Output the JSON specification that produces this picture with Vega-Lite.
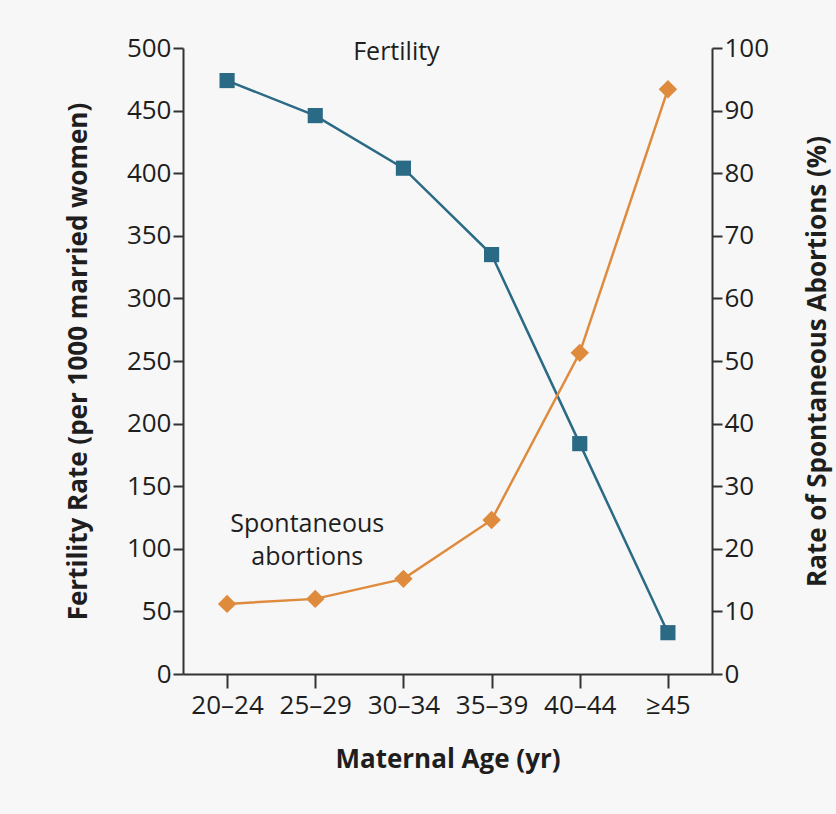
{
  "$schema": "https://vega.github.io/schema/vega-lite/v6.json",
  "width": 529,
  "height": 626,
  "autosize": {"type": "none"},
  "padding": {"left": 183, "top": 48, "right": 124, "bottom": 140},
  "background": "#f7f7f7",
  "config": {
    "view": {"stroke": null},
    "font": "Open Sans",
    "axis": {
      "grid": false,
      "domainColor": "#333333",
      "domainWidth": 2,
      "tickColor": "#333333",
      "tickWidth": 2,
      "tickSize": 10,
      "labelFont": "Open Sans",
      "labelFontSize": 26,
      "labelColor": "#1e1e1e",
      "labelPadding": 2,
      "titleFont": "Open Sans",
      "titleFontSize": 26,
      "titleFontWeight": "bold",
      "titleColor": "#1e1e1e"
    }
  },
  "data": {
    "values": [
      {"age": "20–24", "fertility": 474, "abortion": 11.2},
      {"age": "25–29", "fertility": 446, "abortion": 12.0},
      {"age": "30–34", "fertility": 404, "abortion": 15.2},
      {"age": "35–39", "fertility": 335, "abortion": 24.6},
      {"age": "40–44", "fertility": 184, "abortion": 51.3},
      {"age": "≥45", "fertility": 33, "abortion": 93.4}
    ]
  },
  "encoding": {
    "x": {
      "field": "age",
      "type": "ordinal",
      "sort": null,
      "scale": {
        "type": "point",
        "padding": 0.5,
        "domain": ["20–24", "25–29", "30–34", "35–39", "40–44", "≥45"]
      },
      "axis": {
        "title": "Maternal Age (yr)",
        "labelAngle": 0,
        "tickSize": 14,
        "labelPadding": 4,
        "titlePadding": 28
      }
    }
  },
  "layer": [
    {
      "encoding": {
        "y": {
          "field": "fertility",
          "type": "quantitative",
          "scale": {"domain": [0, 500], "nice": false},
          "axis": {
            "orient": "left",
            "title": "Fertility Rate (per 1000 married women)",
            "values": [0, 50, 100, 150, 200, 250, 300, 350, 400, 450, 500],
            "titlePadding": 35
          }
        }
      },
      "layer": [
        {"mark": {"type": "line", "color": "#2b6a85", "strokeWidth": 2.5}},
        {"mark": {"type": "point", "shape": "square", "filled": true, "opacity": 1, "size": 230, "color": "#2b6a85"}},
        {
          "data": {"values": [{"age": "30–34", "fertility": 497, "label": "Fertility"}]},
          "mark": {"type": "text", "fontSize": 25, "color": "#1e1e1e", "dx": -7, "baseline": "middle"},
          "encoding": {"text": {"field": "label"}}
        }
      ]
    },
    {
      "encoding": {
        "y": {
          "field": "abortion",
          "type": "quantitative",
          "scale": {"domain": [0, 100], "nice": false},
          "axis": {
            "orient": "right",
            "title": "Rate of Spontaneous Abortions (%)",
            "titleAngle": -90,
            "values": [0, 10, 20, 30, 40, 50, 60, 70, 80, 90, 100],
            "titlePadding": 62
          }
        }
      },
      "layer": [
        {"mark": {"type": "line", "color": "#df8b3d", "strokeWidth": 2.5}},
        {"mark": {"type": "point", "shape": "diamond", "filled": true, "opacity": 1, "size": 340, "color": "#df8b3d"}},
        {
          "data": {"values": [{"age": "25–29", "abortion": 25.8, "label": "Spontaneous\nabortions"}]},
          "mark": {"type": "text", "fontSize": 25, "color": "#1e1e1e", "dx": -8, "baseline": "top", "lineBreak": "\n", "lineHeight": 33},
          "encoding": {"text": {"field": "label"}}
        }
      ]
    }
  ],
  "resolve": {"scale": {"y": "independent"}}
}
